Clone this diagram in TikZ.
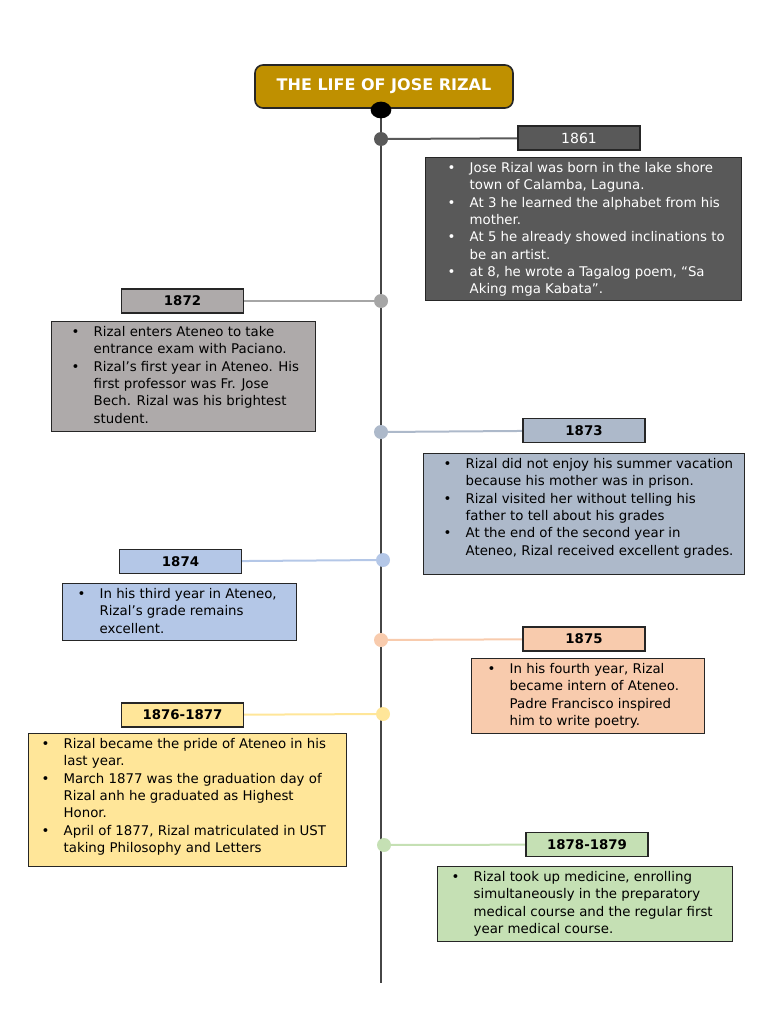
\documentclass[tikz,border=0pt]{standalone}
\usepackage{fontspec}
\setmainfont{DejaVu Sans}
\usetikzlibrary{backgrounds,shapes.geometric}
\definecolor{gold}{RGB}{191,144,0}
\definecolor{cdark}{RGB}{89,89,89}
\definecolor{cline}{RGB}{70,70,70}
\definecolor{cgray}{RGB}{174,170,170}
\definecolor{cgrayline}{RGB}{166,166,166}
\definecolor{cslate}{RGB}{173,185,202}
\definecolor{cblue}{RGB}{180,199,231}
\definecolor{cpeach}{RGB}{248,203,173}
\definecolor{cyellow}{RGB}{255,230,153}
\definecolor{cgreen}{RGB}{197,224,180}
\definecolor{cborder}{RGB}{38,38,38}
\newcommand\txtoff{30pt}
\newcommand\bitem{\hspace*{\dimexpr\txtoff-16.5pt\relax}\makebox[16.5pt][l]{•}}
\newcommand\bcont{\hspace*{\txtoff}}
% #1 width, #2 height, #3 text offset, #4 text
\newcommand\infotext[4]{\begin{minipage}[c][#2][t]{#1}\fontsize{10}{13}\selectfont\renewcommand\txtoff{#3}\vspace*{3.5pt}\raggedright #4\end{minipage}}
\begin{document}
\begin{tikzpicture}[x=0.75pt,y=-0.75pt,
  yearbox/.style={draw=cborder, line width=1pt, minimum width=91.5pt, minimum height=18pt, inner sep=0pt, font=\fontsize{10}{12}\selectfont\bfseries},
  infobox/.style={draw=cborder, line width=1pt, anchor=north west, inner sep=0pt},
  tdot/.style={circle, inner sep=0pt, minimum size=10.5pt},
  link/.style={line width=1.5pt}]
\useasboundingbox (0,0) rectangle (768,1024);

\node[draw=cborder, line width=1.2pt, fill=gold, rounded corners=6pt, minimum width=193.5pt, minimum height=32.25pt, text=white, font=\fontsize{12}{14}\selectfont\bfseries] (title) at (384,86.5) {THE LIFE OF JOSE RIZAL};
\node[ellipse, fill=black, inner sep=0pt, minimum width=15.5pt, minimum height=12.5pt] (top) at (381,110) {};
\coordinate (lineend) at (381,983);

% dots
\node[tdot, fill=cdark] (d1861) at (381,139) {};
\node[tdot, fill=cgrayline] (d1872) at (381,301) {};
\node[tdot, fill=cslate] (d1873) at (381,432) {};
\node[tdot, fill=cblue] (d1874) at (383,560) {};
\node[tdot, fill=cpeach] (d1875) at (381,640) {};
\node[tdot, fill=cyellow] (d1876) at (383,714) {};
\node[tdot, fill=cgreen] (d1878) at (384,845) {};

% year labels
\node[yearbox, fill=cdark, text=white, font=\fontsize{10.5}{12}\selectfont] (y1861) at (579,138) {1861};
\node[yearbox, fill=cgray] (y1872) at (182.5,301) {1872};
\node[yearbox, fill=cslate] (y1873) at (584,430.5) {1873};
\node[yearbox, fill=cblue] (y1874) at (180.5,561.5) {1874};
\node[yearbox, fill=cpeach] (y1875) at (584,639) {1875};
\node[yearbox, fill=cyellow] (y1876) at (182.5,715) {1876-1877};
\node[yearbox, fill=cgreen] (y1878) at (587,844.5) {1878-1879};

% info boxes
\node[infobox, fill=cdark, text=white] (t1861) at (425,157) {\infotext{237pt}{107.25pt}{33pt}{%
\bitem Jose Rizal was born in the lake shore\\
\bcont town of Calamba, Laguna.\\
\bitem At 3 he learned the alphabet from his\\
\bcont mother.\\
\bitem At 5 he already showed inclinations to\\
\bcont be an artist.\\
\bitem at 8, he wrote a Tagalog poem, “Sa\\
\bcont Aking mga Kabata”.}};

\node[infobox, fill=cgray] (t1872) at (51,321) {\infotext{198pt}{82.5pt}{31.5pt}{%
\bitem Rizal enters Ateneo to take\\
\bcont entrance exam with Paciano.\\
\bitem Rizal’s first year in Ateneo. His\\
\bcont first professor was Fr. Jose\\
\bcont Bech. Rizal was his brightest\\
\bcont student.}};

\node[infobox, fill=cslate] (t1873) at (423,453) {\infotext{240.75pt}{90.75pt}{31.5pt}{%
\bitem Rizal did not enjoy his summer vacation\\
\bcont because his mother was in prison.\\
\bitem Rizal visited her without telling his\\
\bcont father to tell about his grades\\
\bitem At the end of the second year in\\
\bcont Ateneo, Rizal received excellent grades.}};

\node[infobox, fill=cblue] (t1874) at (62,583) {\infotext{175.5pt}{42.75pt}{27.75pt}{%
\bitem In his third year in Ateneo,\\
\bcont Rizal’s grade remains\\
\bcont excellent.}};

\node[infobox, fill=cpeach] (t1875) at (471,658) {\infotext{174.75pt}{56.25pt}{28.5pt}{%
\bitem In his fourth year, Rizal\\
\bcont became intern of Ateneo.\\
\bcont Padre Francisco inspired\\
\bcont him to write poetry.}};

\node[infobox, fill=cyellow] (t1876) at (28,733) {\infotext{238.5pt}{99.75pt}{26.25pt}{%
\bitem Rizal became the pride of Ateneo in his\\
\bcont last year.\\
\bitem March 1877 was the graduation day of\\
\bcont Rizal anh he graduated as Highest\\
\bcont Honor.\\
\bitem April of 1877, Rizal matriculated in UST\\
\bcont taking Philosophy and Letters}};

\node[infobox, fill=cgreen] (t1878) at (437,866) {\infotext{221.25pt}{56.25pt}{27pt}{%
\bitem Rizal took up medicine, enrolling\\
\bcont simultaneously in the preparatory\\
\bcont medical course and the regular first\\
\bcont year medical course.}};

\begin{pgfonlayer}{background}
\draw[cline, line width=1.8pt] (top.center) -- (lineend);
\draw[link, cdark] (d1861.center) -- (y1861);
\draw[link, cgrayline] (d1872.center) -- (y1872);
\draw[link, cslate] (d1873.center) -- (y1873);
\draw[link, cblue] (d1874.center) -- (y1874);
\draw[link, cpeach] (d1875.center) -- (y1875);
\draw[link, cyellow] (d1876.center) -- (y1876);
\draw[link, cgreen] (d1878.center) -- (y1878);
\end{pgfonlayer}
\end{tikzpicture}
\end{document}
